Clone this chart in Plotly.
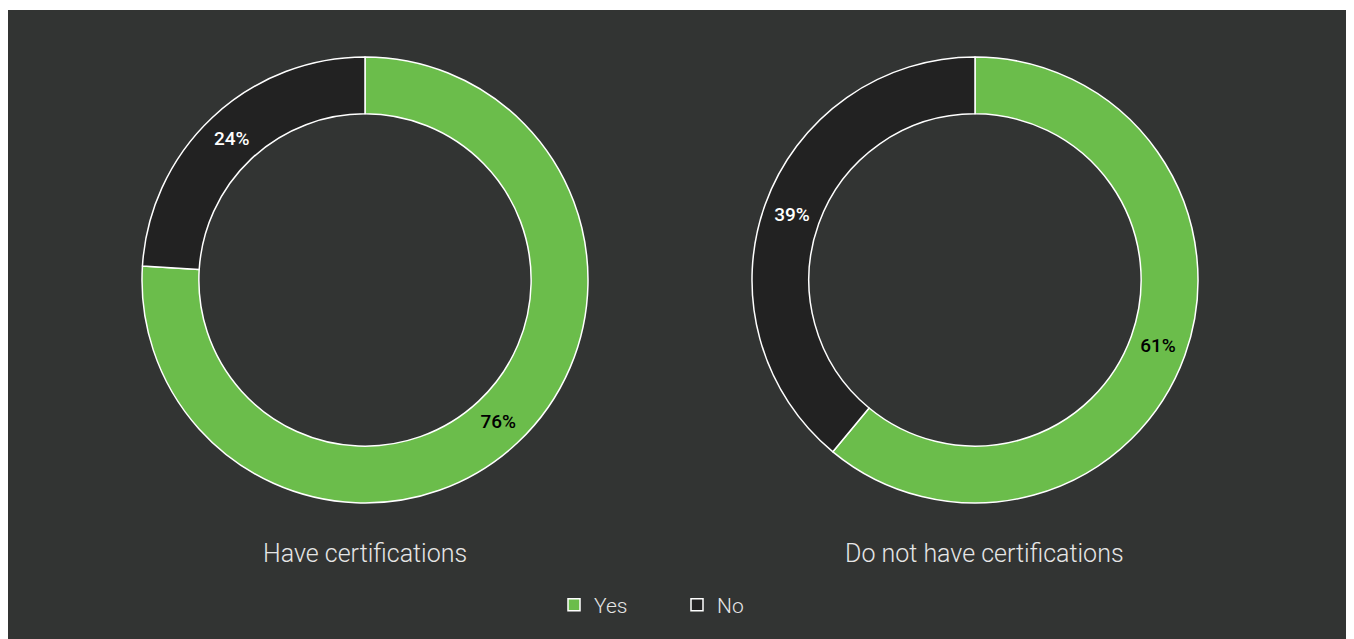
import plotly.graph_objects as go

labels = ["Yes", "No"]
have_cert = [76, 24]
no_cert = [61, 39]
titles = ["Have certifications", "Do not have certifications"]
colors = ["#6bbd4b", "#222222"]
text_colors = ["#000000", "#ffffff"]

W, H = 1346, 631
BG = "#323433"
FONT = "Roboto"

fig = go.Figure()
domains = [
    dict(x=[134 / W, 580 / W], y=[136 / H, 582 / H]),
    dict(x=[744 / W, 1190 / W], y=[136 / H, 582 / H]),
]
for i, vals in enumerate([have_cert, no_cert]):
    fig.add_trace(go.Pie(
        labels=labels,
        values=vals,
        hole=0.745,
        sort=False,
        direction="clockwise",
        rotation=0,
        marker=dict(colors=colors, line=dict(color="#ffffff", width=1.5)),
        texttemplate="%{value}%",
        textposition="inside",
        insidetextorientation="horizontal",
        textfont=dict(color=text_colors, size=19, family=FONT, weight=500),
        domain=domains[i],
        showlegend=(i == 0),
        hoverinfo="label+percent",
    ))

for t, cx in zip(titles, [357, 976]):
    fig.add_annotation(text=t, x=cx / W, y=1 - 545 / H, xref="paper", yref="paper",
                       showarrow=False, font=dict(size=25, color="#e6e6e6", family=FONT, weight=300),
                       xanchor="center", yanchor="middle")

fig.update_layout(
    width=W, height=H,
    paper_bgcolor="#ffffff",
    margin=dict(l=0, r=0, t=0, b=0),
    shapes=[dict(type="rect", xref="paper", yref="paper", x0=0, x1=1, y0=0, y1=1 - 2 / H,
                 fillcolor=BG, line=dict(width=0), layer="below")],
    legend=dict(orientation="h", x=(565 - 19) / W, y=1 - 597 / H, xanchor="left", yanchor="middle",
                font=dict(size=21, color="#e6e6e6", family=FONT, weight=300),
                entrywidth=78, bgcolor="rgba(0,0,0,0)"),
)
fig.write_html("out.html")
